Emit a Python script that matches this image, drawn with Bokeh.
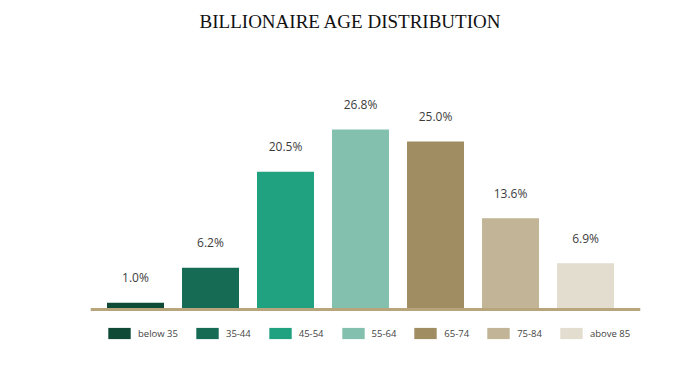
from bokeh.plotting import figure
from bokeh.models import ColumnDataSource, LabelSet, Label, Legend, LegendItem, Span, Range1d
from bokeh.core.properties import value
from bokeh.embed import file_html
from bokeh.resources import INLINE

categories = ["below 35", "35-44", "45-54", "55-64", "65-74", "75-84", "above 85"]
values = [1.0, 6.2, 20.5, 26.8, 25.0, 13.6, 6.9]
colors = ["#0f4a37", "#156b53", "#20a17f", "#83c1ae", "#a18d62", "#c2b597", "#e2ddce"]
title_text = "BILLIONAIRE AGE DISTRIBUTION"

src = ColumnDataSource(dict(
    x=list(range(len(categories))),
    top=values,
    cat=categories,
    color=colors,
    label=[f"{v:.1f}%" for v in values],
))

p = figure(width=684, height=366, output_backend="svg", toolbar_location=None,
           x_range=Range1d(-0.6, 6.733), y_range=Range1d(-8.49, 44.82),
           min_border_left=90, min_border_right=44, min_border_top=8, min_border_bottom=0)
p.axis.visible = False
p.grid.visible = False
p.outline_line_color = None
p.background_fill_color = "white"

r = p.vbar(x="x", top="top", bottom=0, width=0.76, color="color", source=src, line_color=None)

p.add_layout(Span(location=0, dimension="width", line_color="#b9a57c", line_width=3))

labels = LabelSet(x="x", y="top", text="label", source=src, y_offset=25,
                  text_align="center", text_baseline="middle",
                  text_font=value("Open Sans"), text_font_size="12px", text_color="#3c3c3c")
p.add_layout(labels)

p.add_layout(Label(x=2.867, y=42.9, text=title_text, text_align="center", text_baseline="middle",
                   text_font="Liberation Serif", text_font_size="19px", text_color="#111111"))

items = [LegendItem(label=c, renderers=[r], index=i) for i, c in enumerate(categories)]
legend = Legend(items=items, orientation="horizontal", location=(15, 26),
                glyph_width=28, glyph_height=14, label_standoff=5, spacing=15,
                padding=0, margin=0, border_line_color=None, background_fill_alpha=0,
                label_text_font="Open Sans", label_text_font_size="9.5px", label_text_color="#444444",
                label_height=14)
p.add_layout(legend, "center")

open("out.html", "w").write(file_html(p, INLINE))
